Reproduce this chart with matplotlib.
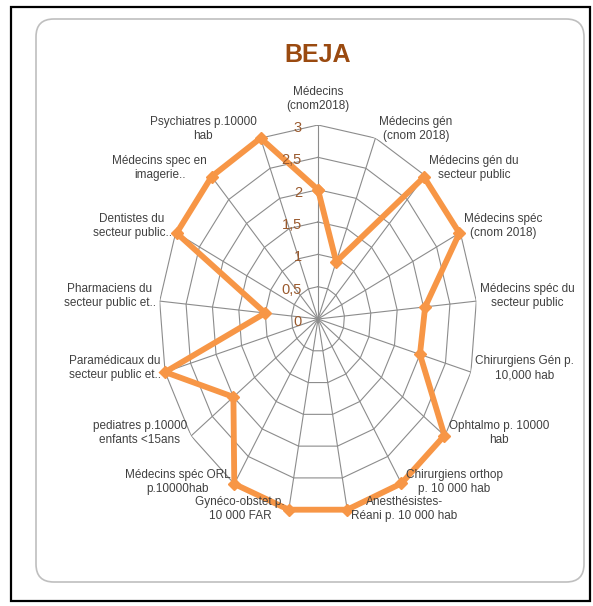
import matplotlib
matplotlib.use("Agg")
import matplotlib.pyplot as plt
from matplotlib.patches import Rectangle, FancyBboxPatch
import numpy as np

plt.rcParams['font.family'] = ['Liberation Sans', 'DejaVu Sans']

# data
categories = [
    "Médecins\n(cnom2018)",
    "Médecins gén\n(cnom 2018)",
    "Médecins gén du\nsecteur public",
    "Médecins spéc\n(cnom 2018)",
    "Médecins spéc du\nsecteur public",
    "Chirurgiens Gén p.\n10,000 hab",
    "Ophtalmo p. 10000\nhab",
    "Chirurgiens orthop\np. 10 000 hab",
    "Anesthésistes-\nRéani p. 10 000 hab",
    "Gynéco-obstet p.\n10 000 FAR",
    "Médecins spéc ORL\np.10000hab",
    "pediatres p.10000\nenfants <15ans",
    "Paramédicaux du\nsecteur public et..",
    "Pharmaciens du\nsecteur public et..",
    "Dentistes du\nsecteur public..",
    "Médecins spec en\nimagerie..",
    "Psychiatres p.10000\nhab",
]
values = [2.0, 0.95, 2.97, 2.98, 2.03, 2.0, 2.99, 2.99, 3.0, 3.0, 3.0,
          2.0, 3.0, 1.0, 2.98, 2.98, 3.0]
rings = [0.5, 1, 1.5, 2, 2.5, 3]
tick_vals = [0, 0.5, 1, 1.5, 2, 2.5, 3]
tick_labels = ["0", "0,5", "1", "1,5", "2", "2,5", "3"]
title = "BEJA"

W, H = 593, 606
fig = plt.figure(figsize=(W / 100, H / 100), dpi=100)

# outer frame + rounded chart area
fig.patches.append(Rectangle((11 / W, 1 - 601 / H), 579 / W, 594 / H,
                             transform=fig.transFigure, fill=False,
                             ec='black', lw=1.6))
fig.patches.append(FancyBboxPatch((36 / W, 1 - 582 / H), 548 / W, 563 / H,
                                  boxstyle="round,pad=0,rounding_size=0.03",
                                  mutation_aspect=W / H,
                                  transform=fig.transFigure, fill=False,
                                  ec='#BFBFBF', lw=1.2))

cx, cy, rx, ry = 318, 319, 159, 194
ax = fig.add_axes([(cx - rx) / W, 1 - (cy + ry) / H, 2 * rx / W, 2 * ry / H],
                  projection='polar')
ax.set_aspect('auto')
ax.patch.set_visible(False)
ax.set_theta_zero_location('N')
ax.set_theta_direction(-1)
ax.set_ylim(0, 3)
ax.grid(False)
ax.spines['polar'].set_visible(False)
ax.set_xticks([])
ax.set_yticks([])

n = len(categories)
theta = np.arange(n) * 2 * np.pi / n
theta_c = np.append(theta, theta[0])

grid_col = '#8C8C8C'
for r in rings:
    ax.plot(theta_c, [r] * (n + 1), color=grid_col, lw=0.8, zorder=1)
for t in theta:
    ax.plot([t, t], [0, 3], color=grid_col, lw=0.8, zorder=1)

vals_c = values + values[:1]
ax.plot(theta_c, vals_c, color='#F79646', lw=4.2, marker='D', ms=6.5,
        mec='#F79646', mfc='#F79646', zorder=3, clip_on=False,
        solid_joinstyle='miter')

px = 0.72  # points per pixel
for v, lab in zip(tick_vals, tick_labels):
    ax.annotate(lab, xy=(0, v), xytext=(-16 * px, -3 * px),
                textcoords='offset points', ha='right', va='center',
                fontsize=10.5, color='#9A5A2E', zorder=4)

for t, lab in zip(theta, categories):
    s, c = np.sin(t), np.cos(t)
    if abs(s) < 0.05:
        ax.annotate(lab, xy=(t, 3), xytext=(0, 13 * px),
                    textcoords='offset points', ha='center', va='bottom',
                    multialignment='center', fontsize=8.5, color='#404040',
                    linespacing=1.25)
    else:
        ha = 'left' if s > 0 else 'right'
        dx = 4 if s > 0 else -4
        dy = 5 + 4 * c
        ax.annotate(lab, xy=(t, 3), xytext=(dx * px, dy * px),
                    textcoords='offset points', ha=ha, va='center',
                    multialignment='center', fontsize=8.5, color='#404040',
                    linespacing=1.25)

fig.text(cx / W, 1 - 55 / H, title, ha='center', va='center',
         fontsize=18, fontweight='bold', color='#9A4A10')

fig.savefig('out.png', dpi=100)
